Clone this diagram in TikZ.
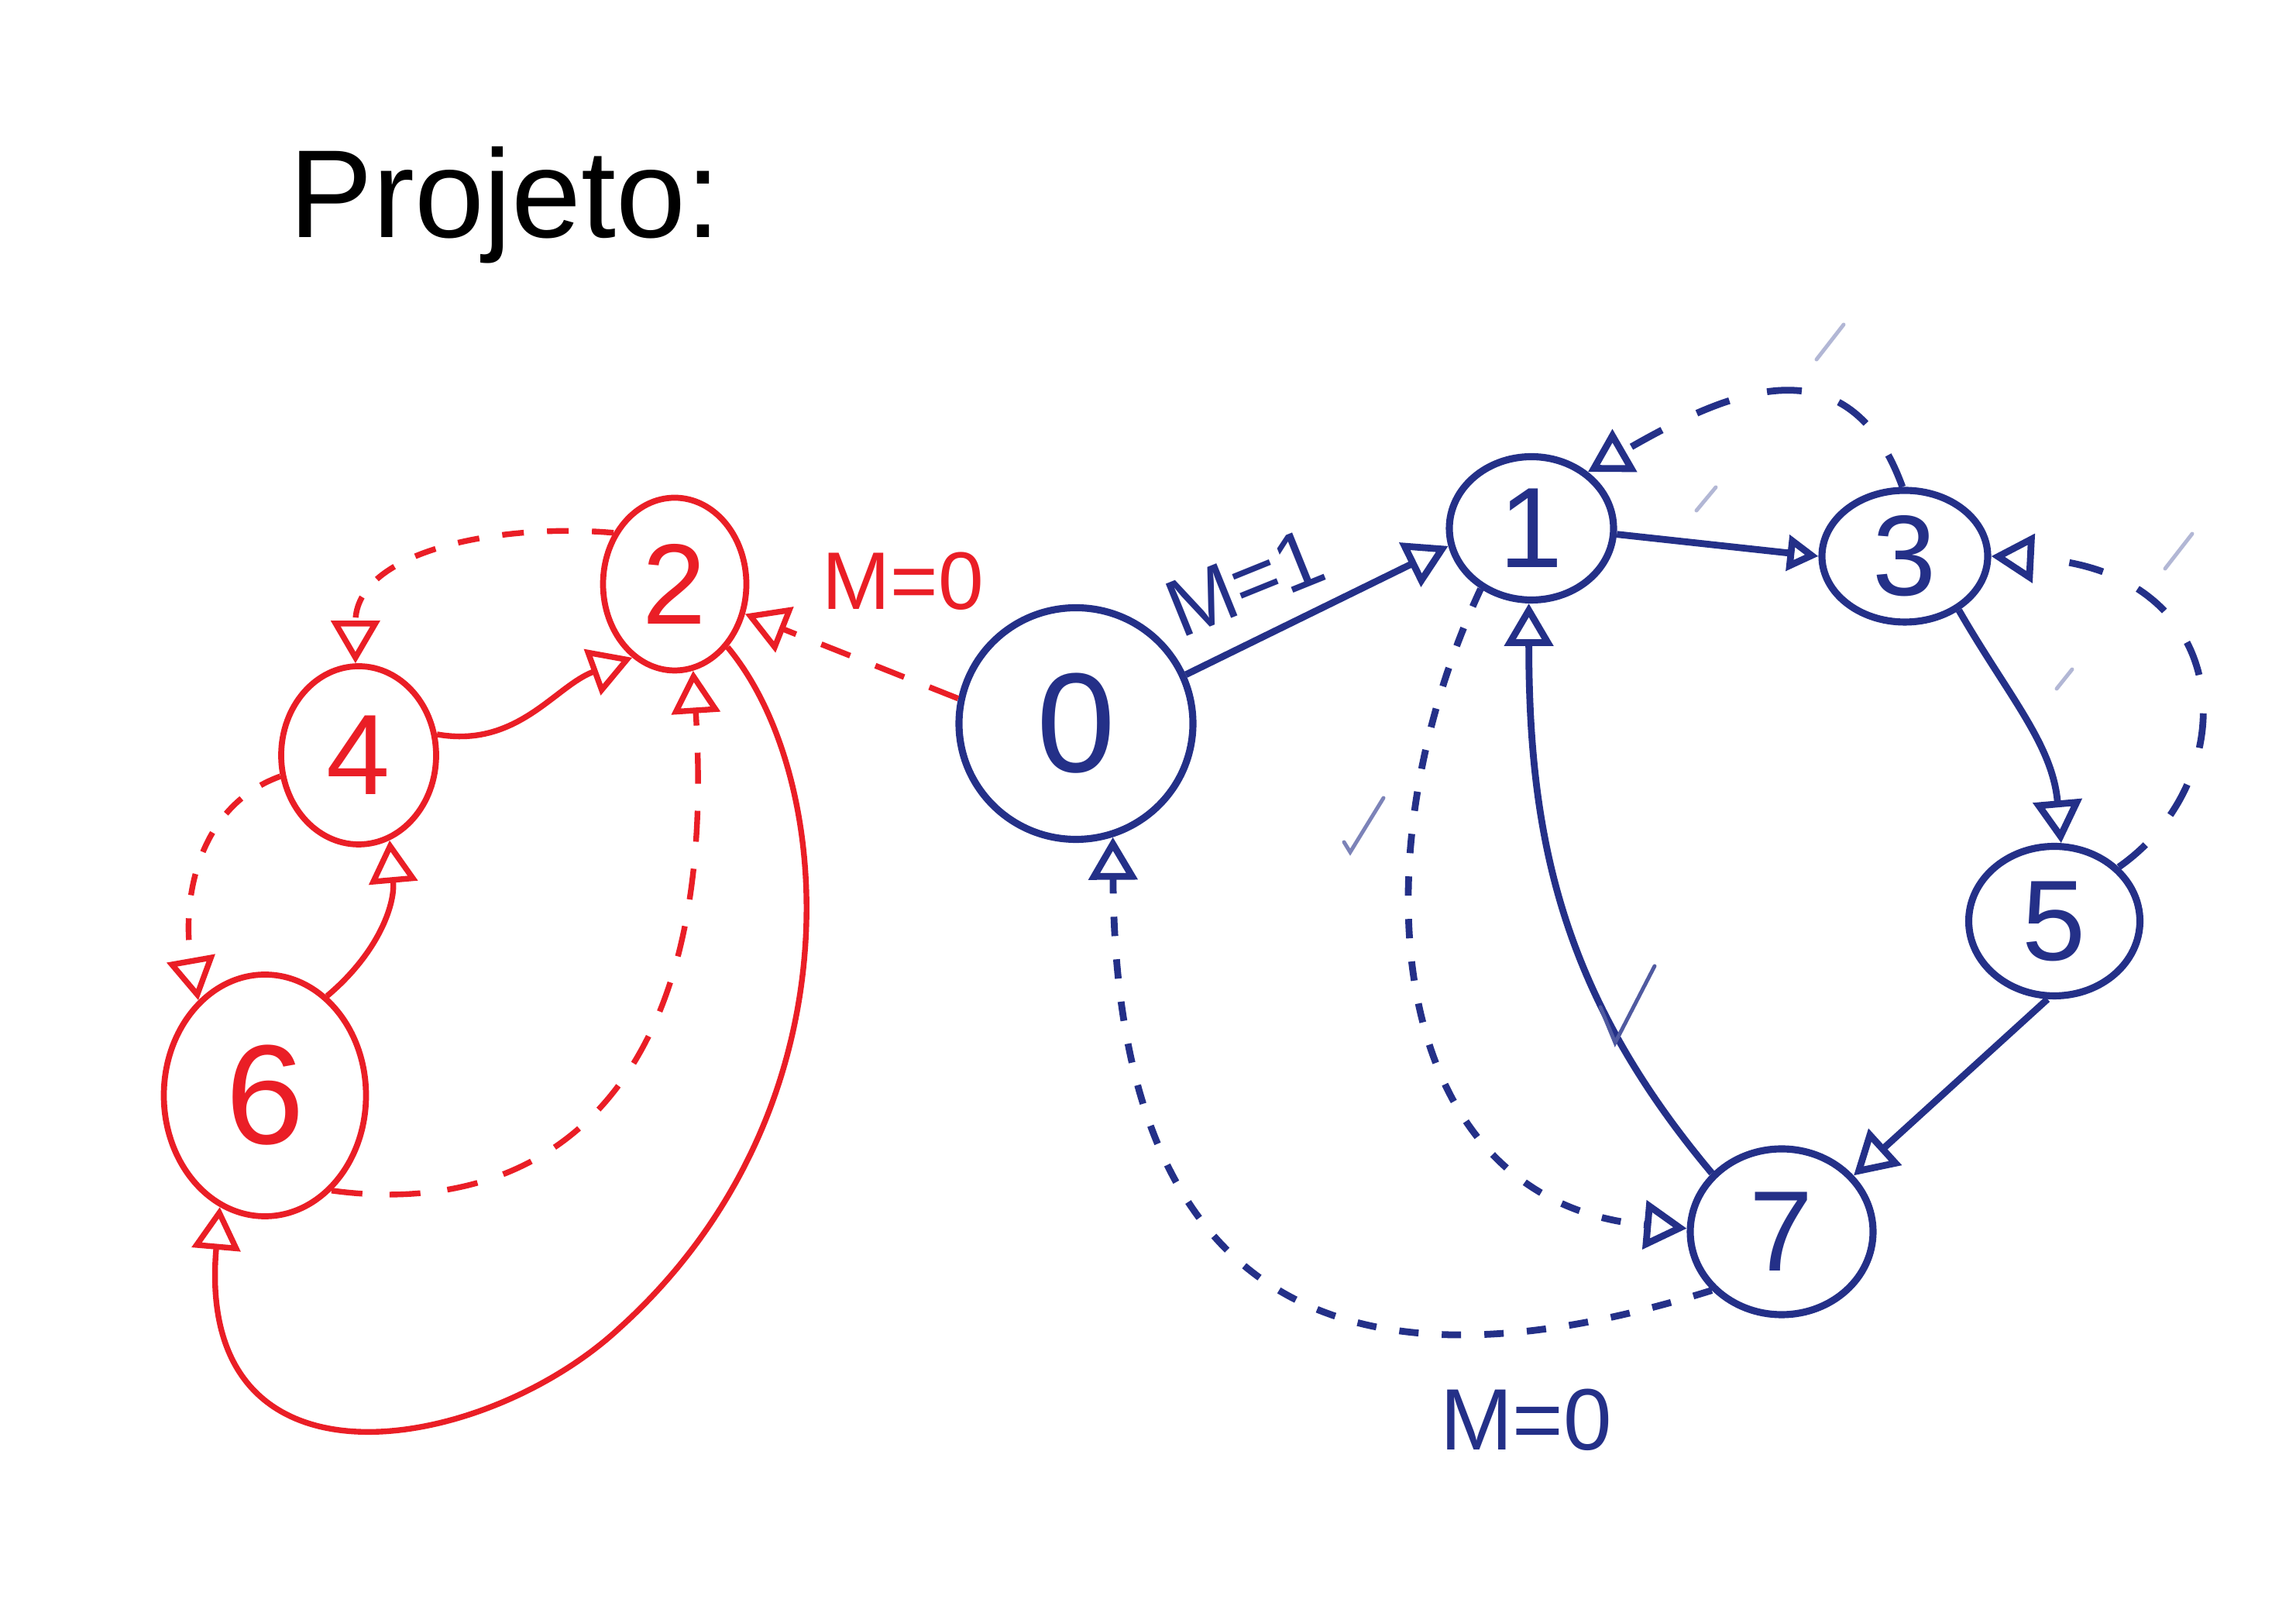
\documentclass[tikz,border=0pt]{standalone}
\usepackage{fontspec}
\setmainfont{Liberation Sans}
\usetikzlibrary{arrows.meta,shapes.geometric}
\definecolor{mkred}{RGB}{234,30,38}
\definecolor{mkblue}{RGB}{36,48,136}
\begin{document}
\begin{tikzpicture}[
    >={Triangle[open,length=5.5mm,width=6.2mm]},
    state/.style={ellipse,draw,line width=2.2pt,inner sep=0pt,font=\fontsize{42}{42}\selectfont},
    rstate/.style={state,mkred},
    bstate/.style={state,mkblue,line width=2.6pt},
    redge/.style={mkred,line width=2.1pt,->},
    bedge/.style={mkblue,line width=2.5pt,->},
    rdash/.style={redge,dash pattern=on 4mm off 3.5mm},
    rshort/.style={redge,dash pattern=on 2.8mm off 3mm},
    bdash/.style={bedge,dash pattern=on 4.5mm off 5mm},
    bdot/.style={bedge,dash pattern=on 2.5mm off 3mm},
    lbl/.style={font=\fontsize{30}{30}\selectfont},
    tick/.style={mkblue!60,line width=1.4pt,line cap=round}
  ]
  \useasboundingbox[fill=white] (0,0) rectangle (29.64,20.64);
  \node[font=\fontsize{46}{46}\selectfont] (title) at (6.52,17.99) {Projeto:};

  \node[rstate,minimum width=1.85cm,minimum height=2.23cm] (n2) at (8.71,13.10) {2};
  \node[rstate,minimum width=2.0cm,minimum height=2.3cm] (n4) at (4.63,10.89) {4};
  \node[rstate,minimum width=2.61cm,minimum height=3.12cm,font=\fontsize{52}{52}\selectfont] (n6) at (3.42,6.50) {6};
  \node[bstate,minimum width=3.02cm,minimum height=2.99cm,font=\fontsize{52}{52}\selectfont] (n0) at (13.89,11.30) {0};
  \node[bstate,minimum width=2.12cm,minimum height=1.85cm] (n1) at (19.77,13.82) {1};
  \node[bstate,minimum width=2.14cm,minimum height=1.70cm] (n3) at (24.59,13.46) {3};
  \node[bstate,minimum width=2.21cm,minimum height=1.93cm] (n5) at (26.52,8.75) {5};
  \node[bstate,minimum width=2.36cm,minimum height=2.14cm] (n7) at (23.00,4.74) {7};

  \node[lbl,mkred] (m0r) at (11.66,13.14) {M=0};
  \node[lbl,mkblue,rotate=22] (m1) at (16.07,13.12) {M=1};
  \node[lbl,mkblue,font=\fontsize{32}{32}\selectfont] (m0b) at (19.70,2.31) {M=0};

  \draw[rdash] (n0.168) -- (n2.-23);
  \draw[redge] (n4.15) to[out=-10,in=200] (n2.240);
  \draw[rshort] (n2.140) to[out=175,in=90] (n4.92);
  \draw[rshort] (n4.195) to[out=200,in=100] (n6.125);
  \draw[redge] (n6.58) to[out=40,in=-85] (n4.-70);
  \draw[rdash] (n6.-55) .. controls (7.0,4.9) and (9.3,6.5) .. (n2.-78);
  \draw[redge] (n2.-50) .. controls (10.8,10.6) and (11.1,6.3) .. (8.0,3.5) .. controls (6.26,1.88) and (2.5,1.2) .. (n6.-112);

  \draw[bedge] (n0.24) -- (n1.192);
  \draw[bedge,>={Triangle[open,length=4mm,width=4.5mm]}] (n1.-4) -- (n3.west);
  \draw[bdash] (n3.92) to[out=110,in=30,looseness=1.3] (n1.45);
  \draw[bedge] (n3.-45) to[out=-60,in=95] (n5.85);
  \draw[bdash] (n5.40) .. controls (29.0,10.6) and (28.9,13.3) .. (n3.east);
  \draw[bedge] (n5.-95) -- (n7.38);
  \draw[bedge] (n7.140) to[out=130,in=-90] (n1.-92);
  \draw[bdot] (n1.-130) to[out=-115,in=175,looseness=1.15] (n7.178);
  \draw[bdot] (n7.-140) .. controls (18.0,2.7) and (14.4,3.2) .. (n0.-72);

  \draw[tick,mkblue!80] (20.66,7.64) -- (20.85,7.18) -- (21.36,8.17);
  \draw[tick] (17.35,9.77) -- (17.43,9.64) -- (17.86,10.34);
  \draw[tick,mkblue!35] (23.45,16.00) -- (23.80,16.45);
  \draw[tick,mkblue!35] (21.90,14.05) -- (22.15,14.35);
  \draw[tick,mkblue!35] (27.95,13.30) -- (28.30,13.75);
  \draw[tick,mkblue!35] (26.55,11.75) -- (26.75,12.00);
\end{tikzpicture}
\end{document}
